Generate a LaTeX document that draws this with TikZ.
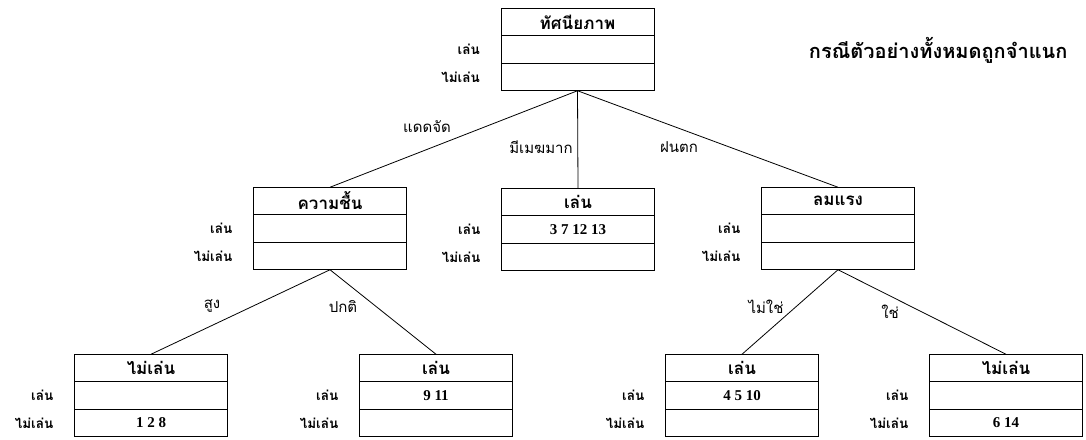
\documentclass[tikz,border=0pt]{standalone}
\usepackage{fontspec}
\setmainfont{Liberation Serif}
\newfontfamily\thaifont[Script=Thai]{Loma}
\usetikzlibrary{positioning}

\tikzset{
  cell/.style={draw, line width=0.9pt, minimum width=153pt, minimum height=27.5pt,
    inner sep=0pt, outer sep=0pt},
  headcell/.style={cell, font=\thaifont\bfseries\fontsize{17}{17}\selectfont},
  numcell/.style={cell, font=\bfseries\fontsize{15}{15}\selectfont},
  rowlabel/.style={font=\thaifont\bfseries\fontsize{13.5}{13.5}\selectfont, inner sep=0pt},
  edgelabel/.style={font=\thaifont\fontsize{15}{15}\selectfont, inner sep=0pt},
  branch/.style={line width=0.8pt},
}

% box: name, header position, header text, play row, no-play row
\newcommand{\treebox}[5]{%
  \node[headcell] (#1) at (#2) {#3};
  \node[numcell, below=0pt of #1] (#1-p) {#4};
  \node[numcell, below=0pt of #1-p] (#1-n) {#5};
  \node[rowlabel, left=21pt of #1-p] {เล่น};
  \node[rowlabel, left=21pt of #1-n] {ไม่เล่น};
}

\begin{document}
\begin{tikzpicture}[x=1pt, y=-1pt]
  \useasboundingbox (0,0) rectangle (1086,439);

  % root
  \treebox{outlook}{577.5,22}{ทัศนียภาพ}{}{}
  \node[font=\thaifont\bfseries\fontsize{20}{20}\selectfont, anchor=east] (caption)
    at (1071,50) {กรณีตัวอย่างทั้งหมดถูกจำแนก};

  % second level
  \treebox{humidity}{330,201}{ความชื้น}{}{}
  \treebox{overcast}{578,202}{เล่น}{3 7 12 13}{}
  \treebox{wind}{838,201}{ลมแรง}{}{}

  % leaves
  \treebox{highhum}{151,368}{ไม่เล่น}{}{1 2 8}
  \treebox{normhum}{436,368}{เล่น}{9 11}{}
  \treebox{calm}{742,368}{เล่น}{4 5 10}{}
  \treebox{windy}{1006,368}{ไม่เล่น}{}{6 14}

  % branches
  \draw[branch] (outlook-n.south) -- (humidity.north);
  \draw[branch] (outlook-n.south) -- (overcast.north);
  \draw[branch] (outlook-n.south) -- (wind.north);
  \draw[branch] (humidity-n.south) -- (highhum.north);
  \draw[branch] (humidity-n.south) -- (normhum.north);
  \draw[branch] (wind-n.south) -- (calm.north);
  \draw[branch] (wind-n.south) -- (windy.north);

  % branch labels
  \node[edgelabel] (sunny) at (427,127) {แดดจัด};
  \node[edgelabel] (cloudy) at (541,147) {มีเมฆมาก};
  \node[edgelabel] (rainy) at (679,147) {ฝนตก};
  \node[edgelabel] (high) at (212,306) {สูง};
  \node[edgelabel] (normal) at (343,306) {ปกติ};
  \node[edgelabel] (nowind) at (766,307) {ไม่ใช่};
  \node[edgelabel] (yeswind) at (890,312) {ใช่};
\end{tikzpicture}
\end{document}
